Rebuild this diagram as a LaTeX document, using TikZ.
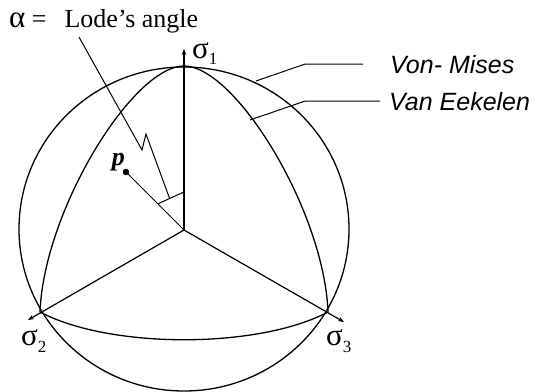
\documentclass[tikz,border=0pt]{standalone}
\usepackage{fontspec}
\setmainfont{Liberation Serif}
\newfontfamily\helvit{Liberation Sans}[ItalicFont={Liberation Sans Italic}]
\usetikzlibrary{arrows.meta,positioning,calc}

\begin{document}
\begin{tikzpicture}[x=1pt,y=-1pt,
  yield/.style={line width=1.3pt},
  axis/.style={line width=1.2pt,-{Stealth[length=6pt,width=4.5pt]}},
  leader/.style={line width=1pt},
  crit/.style={font=\helvit\itshape\fontsize{25}{28}\selectfont,anchor=base west,inner sep=0pt},
  sig/.style={font=\fontsize{31}{32}\selectfont,anchor=base west,inner sep=0pt},
  lode/.style={font=\fontsize{26}{30}\selectfont,anchor=base west,inner sep=0pt}]
  \useasboundingbox (0,0) rectangle (540,391);
  \coordinate (o) at (184,230);
  \coordinate (v1) at (184,66); \coordinate (v2) at (40,312); \coordinate (v3) at (328,312);
  \coordinate (t1) at (184,49); \coordinate (t2) at (28,320); \coordinate (t3) at (344,322);
  \coordinate (p) at (126,172);
  \coordinate (m1) at ($(o)!37pt!(p)$); \coordinate (m2) at ($(o)!38pt!(v1)$);
  \node[lode] (alpha) at (9,27) {{\fontsize{31}{30}\selectfont α} =\hspace{18pt}Lode’s angle};
  \node[crit] (vm) at (390,73) {Von- Mises};
  \node[crit] (ve) at (389,110) {Van Eekelen};
  \node[sig] (s1) at (192,58) {σ\raisebox{-6pt}{\fontsize{17}{17}\selectfont 1}};
  \node[sig] (s2) at (21,345) {σ\raisebox{-7pt}{\fontsize{17}{17}\selectfont 2}};
  \node[sig] (s3) at (326,345) {σ\raisebox{-7pt}{\fontsize{17}{17}\selectfont 3}};
  \node[lode,font=\fontsize{26}{30}\selectfont\itshape\bfseries,anchor=base east] (plbl) at (125,165) {p};
  \draw[yield] (o) ++(0,-1) ellipse [x radius=165,y radius=162];
  \draw[yield] (v1) .. controls (235,66) and (324,210) .. (v3) .. controls (258,349) and (110,349) .. (v2) .. controls (44,210) and (133,66) .. (v1);
  \draw[axis] (o) -- (t1); \draw[axis] (o) -- (t2); \draw[axis] (o) -- (t3);
  \draw[leader] (o) -- (p); \fill (p) circle (3.3);
  \draw[leader] (m1) -- (m2);
  \draw[leader] (79,37) -- (142,150) -- (146,134) -- ($(m1)!0.45!(m2)$);
  \draw[leader] ([xshift=-27pt]vm.west) -- ++(-58,0) -- (256,81);
  \draw[leader] ([xshift=-9pt]ve.west) -- ++(-75,0) -- (250,120);
\end{tikzpicture}
\end{document}
